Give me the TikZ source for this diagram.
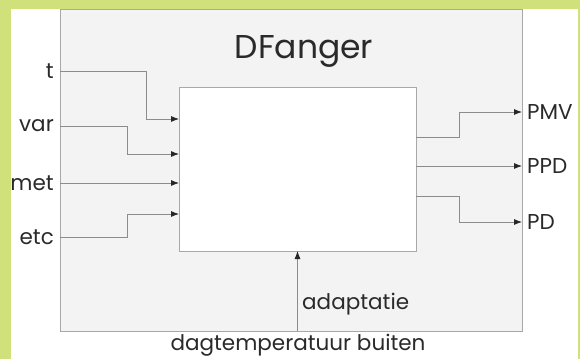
\documentclass[tikz,border=0pt]{standalone}
\usepackage{fontspec}
\setmainfont{Poppins}
\usetikzlibrary{arrows.meta, positioning, calc}
\definecolor{framegreen}{HTML}{D0E07A}
\definecolor{boxgray}{HTML}{A8A8A8}
\definecolor{panelgray}{HTML}{F3F3F3}
\definecolor{wiregray}{HTML}{8C8C8C}
\definecolor{inkgray}{HTML}{2A2A2A}

\begin{document}
\begin{tikzpicture}[x=1pt, y=-1pt, line join=miter,
        lbl/.style={text=inkgray, font=\fontsize{21.5}{24}\selectfont, inner sep=0pt},
        inlbl/.style={lbl, anchor=east, inner xsep=6pt},
        outlbl/.style={lbl, anchor=west, inner xsep=5pt},
        wire/.style={wiregray, line width=0.8pt,
                     -{Latex[length=8pt, width=6pt, color=black!85]}}]
        \useasboundingbox (0,0) rectangle (580,359);
        % frame and panel
        \fill[framegreen] (0,0) rectangle (580,359);
        \fill[white] (11,9) rectangle (578,359);
        \draw[boxgray, fill=panelgray, line width=0.8pt] (60,9) rectangle (522,331);
        \node[draw=boxgray, fill=white, line width=0.8pt, outer sep=0pt, anchor=north west,
              minimum width=237pt, minimum height=164pt] (dfanger) at (179,87) {};
        \node[lbl, font=\fontsize{33}{36}\selectfont, anchor=base] (title) at (304,58) {DFanger};
        % inputs
        \node[inlbl] (t)   at (60,71)  {t};
        \node[inlbl] (var) at (60,126) {var};
        \node[inlbl] (met) at (60,183) {met};
        \node[inlbl] (etc) at (60,237) {etc};
        \coordinate (in1) at (179,119);
        \coordinate (in2) at (179,154);
        \coordinate (in3) at (179,183);
        \coordinate (in4) at (179,214);
        \draw[wire] (t.east) -- (146,71) |- (in1);
        \draw[wire] (var.east) -- (127,126) |- (in2);
        \draw[wire] (met.east) -- (in3);
        \draw[wire] (etc.east) -- (127,237) |- (in4);
        % outputs
        \node[outlbl] (pmv) at (522,112) {PMV};
        \node[outlbl] (ppd) at (522,166) {PPD};
        \node[outlbl] (pd)  at (522,222) {PD};
        \coordinate (out1) at (416,137);
        \coordinate (out2) at (416,166);
        \coordinate (out3) at (416,196);
        \draw[wire] (out1) -- (459,137) |- (pmv.west);
        \draw[wire] (out2) -- (ppd.west);
        \draw[wire] (out3) -- (459,196) |- (pd.west);
        % adaptation input
        \coordinate (adapt) at (dfanger.south |- 0,331);
        \draw[wire] (adapt) -- (dfanger.south);
        \node[lbl, anchor=west] (adaptatie) at (302,304) {adaptatie};
        \node[lbl] (buiten) at (298,345) {dagtemperatuur buiten};
    \end{tikzpicture}
\end{document}
